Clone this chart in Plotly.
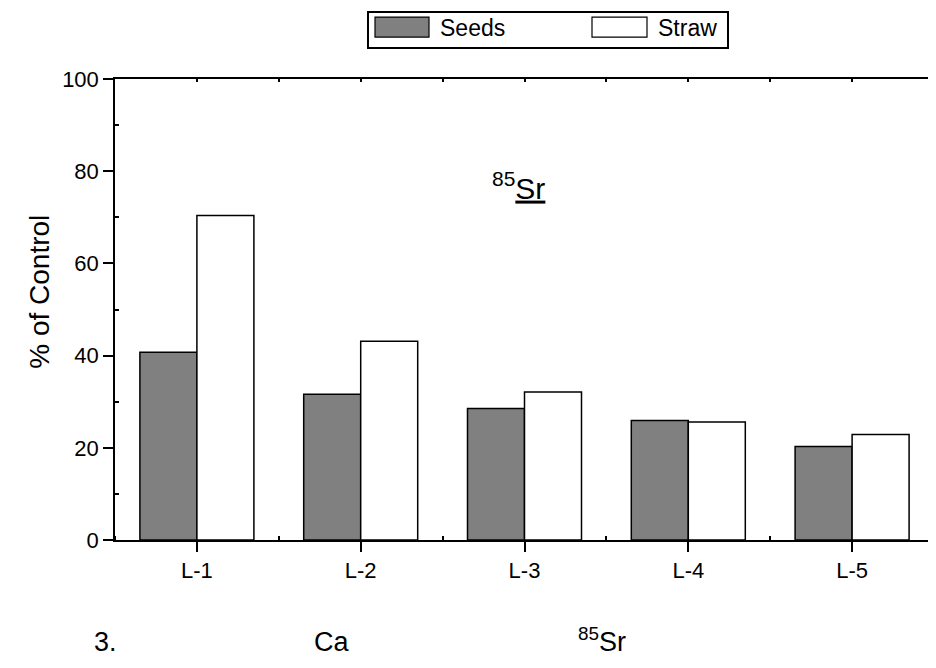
import plotly.graph_objects as go
import numpy as np

categories = ["L-1", "L-2", "L-3", "L-4", "L-5"]
seeds = [40.7, 31.6, 28.5, 25.9, 20.3]
straw = [70.4, 43.1, 32.1, 25.6, 22.9]
series_names = ["Seeds", "Straw"]
y_ticks = [0, 20, 40, 60, 80, 100]

# page places the figure 8px from the window corner (body margin)
OFF = 8
W, H = 936 - OFF, 668 - OFF
L, R, T, B = 115 - OFF, 934 - OFF, 79 - OFF, 540.5 - OFF

def px(x):
    return (x - OFF - L) / (R - L)

def py(y):
    return (B - (y - OFF)) / (B - T)

FONT = "Liberation Sans, Arial, sans-serif"
xpos = np.arange(len(categories))

fig = go.Figure()
fig.add_trace(go.Bar(x=xpos, y=seeds, name=series_names[0],
                     marker=dict(color="#808080", line=dict(color="black", width=1.5))))
fig.add_trace(go.Bar(x=xpos, y=straw, name=series_names[1],
                     marker=dict(color="white", line=dict(color="black", width=1.5))))
# empty trace so that the top/right frame axes are drawn
fig.add_trace(go.Scatter(x=[], y=[], xaxis="x2", yaxis="y2", showlegend=False,
                         hoverinfo="skip"))

fig.update_layout(
    width=W, height=H,
    margin=dict(l=L, r=W - R, t=T, b=H - B, pad=0, autoexpand=False),
    paper_bgcolor="white", plot_bgcolor="white",
    barmode="group", bargap=0.304, bargroupgap=0,
    showlegend=False,
    font=dict(family=FONT, color="black", size=20),
    xaxis=dict(range=[-0.5, 4.5], tickvals=list(xpos), ticktext=categories,
               ticks="outside", ticklen=10, tickwidth=1.5, tickcolor="black",
               showline=True, linecolor="black", linewidth=1.5,
               showgrid=False, zeroline=False, automargin=False,
               tickfont=dict(size=22),
               minor=dict(tickmode="linear", tick0=0.5, dtick=1, ticks="inside",
                          ticklen=4, tickcolor="black", tickwidth=1.5, showgrid=False)),
    yaxis=dict(range=[0, 100], tickvals=y_ticks,
               ticks="outside", ticklen=10, tickwidth=1.5, tickcolor="black",
               showline=True, linecolor="black", linewidth=1.5,
               showgrid=False, zeroline=False, automargin=False,
               tickfont=dict(size=22),
               minor=dict(tickmode="linear", tick0=10, dtick=20, ticks="inside",
                          ticklen=4, tickcolor="black", tickwidth=1.5, showgrid=False)),
    xaxis2=dict(overlaying="x", side="top", range=[-0.5, 4.5], tickmode="linear",
                tick0=0, dtick=0.5, ticks="inside", ticklen=3, tickwidth=1.5,
                tickcolor="black", showticklabels=False, showline=True,
                linecolor="black", linewidth=1.5, showgrid=False, zeroline=False,
                automargin=False),
    yaxis2=dict(overlaying="y", side="right", range=[0, 100], tickmode="linear",
                tick0=0, dtick=10, ticks="inside", ticklen=3, tickwidth=1.5,
                tickcolor="black", showticklabels=False, showline=True,
                linecolor="black", linewidth=1.5, showgrid=False, zeroline=False,
                automargin=False),
)

shapes = []
# legend box
shapes.append(dict(type="rect", xref="paper", yref="paper",
                   x0=px(368), x1=px(728), y0=py(48), y1=py(12),
                   line=dict(color="black", width=2), fillcolor="white"))
shapes.append(dict(type="rect", xref="paper", yref="paper",
                   x0=px(375), x1=px(429), y0=py(37), y1=py(17),
                   line=dict(color="black", width=1.2), fillcolor="#808080"))
shapes.append(dict(type="rect", xref="paper", yref="paper",
                   x0=px(592), x1=px(647), y0=py(37), y1=py(17),
                   line=dict(color="black", width=1.2), fillcolor="white"))
fig.update_layout(shapes=shapes)

ann = [
    dict(text=series_names[0], x=px(438), y=py(28), xanchor="left", yanchor="middle",
         font=dict(size=23)),
    dict(text=series_names[1], x=px(656), y=py(28), xanchor="left", yanchor="middle",
         font=dict(size=23)),
    dict(text="% of Control", x=px(40), y=py(292), xanchor="center", yanchor="middle",
         textangle=-90, font=dict(size=28)),
    dict(text="<sup>85</sup><u>Sr</u>", x=px(518), y=py(186), xanchor="center",
         yanchor="middle", font=dict(size=30)),
    dict(text="3.", x=px(105), y=py(643), xanchor="center", yanchor="middle",
         font=dict(size=27)),
    dict(text="Ca", x=px(331), y=py(643), xanchor="center", yanchor="middle",
         font=dict(size=27)),
    dict(text="<sup>85</sup>Sr", x=px(602), y=py(641), xanchor="center",
         yanchor="middle", font=dict(size=27)),
]
for a in ann:
    a.update(xref="paper", yref="paper", showarrow=False)
    fig.add_annotation(**a)

fig.write_html("out.html")
